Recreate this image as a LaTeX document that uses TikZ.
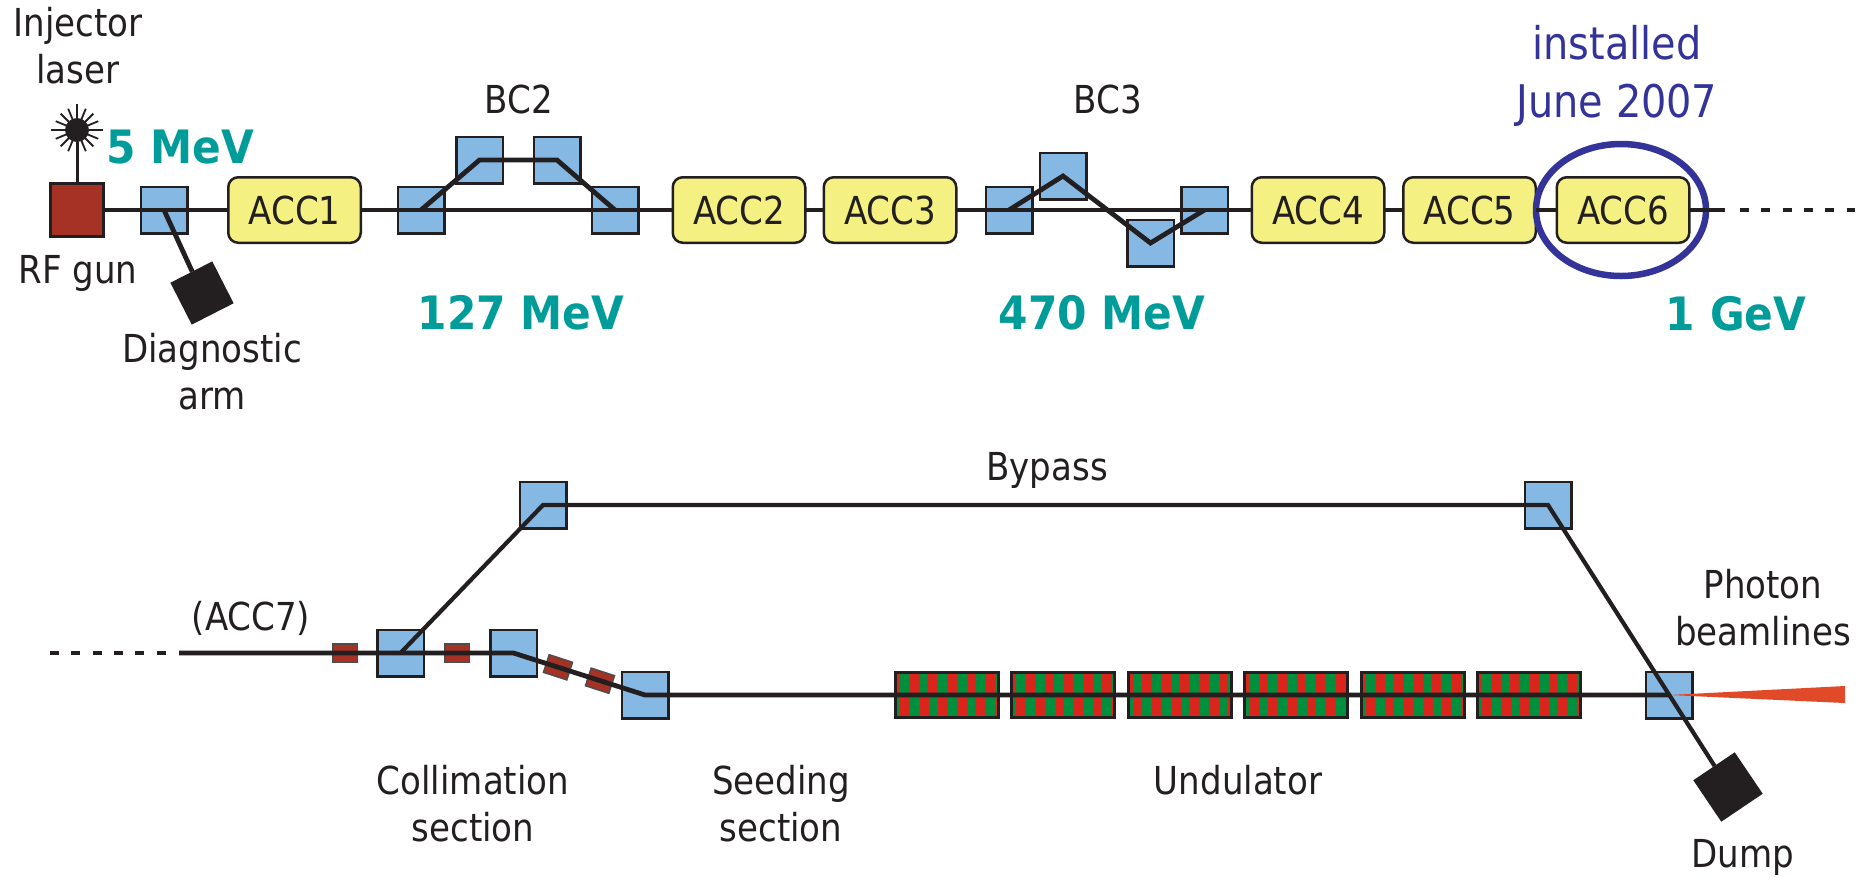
\documentclass[tikz,border=0pt]{standalone}
\usepackage{xcolor}
\usepackage{fontspec}
\setmainfont[FakeStretch=0.885]{DejaVu Sans}
\newfontfamily\energyfont[FakeStretch=0.92]{DejaVu Sans}
\usetikzlibrary{shapes,positioning}

\definecolor{inkblack}{HTML}{231F20}
\definecolor{magblue}{HTML}{85B9E3}
\definecolor{gunred}{HTML}{A63226}
\definecolor{accyellow}{HTML}{F4F082}
\definecolor{ringblue}{HTML}{33339A}
\definecolor{energyteal}{HTML}{009C9A}
\definecolor{undgreen}{HTML}{008F3C}
\definecolor{undred}{HTML}{DA251C}
\definecolor{coneorange}{HTML}{E04A28}

\begin{document}
\begin{tikzpicture}[
    x=1pt, y=-1pt,
    node distance=100pt,
    every node/.style={font=\fontsize{38.5}{47}\selectfont, text=inkblack, inner sep=0pt, outer sep=0pt},
    bendbox/.style={rectangle, draw=inkblack, line width=2.5pt, fill=magblue, minimum size=46.5pt},
    acc/.style={rectangle, rounded corners=10pt, draw=inkblack, line width=2.5pt, fill=accyellow, minimum width=132.5pt, minimum height=65.5pt},
    block/.style={rectangle, fill=inkblack, minimum size=#1},
    magnet/.style={rectangle, draw=inkblack!80, line width=1.5pt, fill=gunred, minimum width=24.5pt, minimum height=18.5pt},
    undu/.style={rectangle, draw=inkblack, line width=3pt, fill=undgreen, minimum width=103pt, minimum height=45pt,
        path picture={
            \foreach \k in {-1,...,5} {
                \fill[undred] ([shift={(\k*19.1+13.8,-30)}]path picture bounding box.west) rectangle ++(9.6,30);
                \fill[undred] ([shift={(\k*19.1+4.5,0)}]path picture bounding box.west) rectangle ++(9.6,30);
            }
        }},
    beam/.style={line width=4.8pt, draw=inkblack},
    thinbeam/.style={line width=4.2pt, draw=inkblack},
    dots/.style={line width=4.8pt, draw=inkblack, dash pattern=on 9pt off 12.3pt},
    txt/.style={anchor=base, align=center},
    energy/.style={anchor=base, text=energyteal, font=\energyfont\bfseries\fontsize{46}{50}\selectfont},
    note/.style={anchor=base, align=center, text=ringblue, font=\fontsize{45}{58}\selectfont}
]
    \useasboundingbox (0,0) rectangle (1865,879);

    % upper line
    \node[rectangle, draw=inkblack, line width=3pt, fill=gunred, minimum size=53pt] (gun) at (77,210) {};
    \node[bendbox, right of=gun, xshift=-13pt] (diag) {};
    \node[acc, right of=diag, xshift=30.5pt] (acc1) {ACC1};
    \node[bendbox, right of=acc1, xshift=26.5pt] (bcA) {};
    \node[bendbox, right of=bcA, xshift=-41.5pt, yshift=50pt] (bcB) {};
    \node[bendbox, right of=bcB, xshift=-22.5pt] (bcC) {};
    \node[bendbox, right of=bcC, xshift=-42pt, yshift=-50pt] (bcD) {};
    \node[acc, right of=bcD, xshift=24pt] (acc2) {ACC2};
    \node[acc, right of=acc2, xshift=51pt] (acc3) {ACC3};
    \node[bendbox, right of=acc3, xshift=19pt] (bdA) {};
    \node[bendbox, right of=bdA, xshift=-46pt, yshift=34pt] (bdB) {};
    \node[bendbox, right of=bdB, xshift=-12.5pt, yshift=-67pt] (bdC) {};
    \node[bendbox, right of=bdC, xshift=-46pt, yshift=33pt] (bdD) {};
    \node[acc, right of=bdD, xshift=13.5pt] (acc4) {ACC4};
    \node[acc, right of=acc4, xshift=51.5pt] (acc5) {ACC5};
    \node[acc, right of=acc5, xshift=53.5pt] (acc6) {ACC6};
    \node[ellipse, draw=ringblue, line width=6.5pt, minimum width=170pt, minimum height=132pt, right of=acc5, xshift=51.5pt] (ring) {};
    \node[block=47pt, rotate=27] (diagdump) at (202,293) {};
    \node[circle, fill=inkblack, minimum size=24pt] (laser) at (77,130) {};
    \coordinate (upend) at (1725,210);
    \coordinate (dotA) at (1740,210);
    \coordinate (dotB) at (1855,210);

    % lower line
    \coordinate (lowdotA) at (50,653);
    \coordinate (lowdotB) at (170,653);
    \coordinate (lowstart) at (179,653);
    \node[magnet] (magA) at (345,653) {};
    \node[bendbox, right of=magA, xshift=-44.5pt] (colA) {};
    \node[magnet, right of=colA, xshift=-43.5pt] (magB) {};
    \node[bendbox, right of=magB, xshift=-43.5pt] (colB) {};
    \node[magnet, rotate=-18] (magC) at (558,667.3) {};
    \node[magnet, rotate=-18] (magD) at (600,680.7) {};
    \node[bendbox] (seed) at (645,695) {};
    \node[undu] (undA) at (947,695) {};
    \node[undu, right of=undA, xshift=16.4pt] (undB) {};
    \node[undu, right of=undB, xshift=16.4pt] (undC) {};
    \node[undu, right of=undC, xshift=16.4pt] (undD) {};
    \node[undu, right of=undD, xshift=16.4pt] (undE) {};
    \node[undu, right of=undE, xshift=16.4pt] (undF) {};
    \node[bendbox] (spread) at (1669,695) {};
    \node[bendbox] (byA) at (543,505) {};
    \node[bendbox] (byB) at (1548,505) {};
    \node[block=50pt, rotate=34] (dump) at (1728,787) {};

    \fill[coneorange] (spread.center) -- (1845,686) -- (1845,703) -- cycle;

    \draw[beam] (gun) -- (acc1);
    \draw[beam] (diag.center) -- (diagdump);
    \draw[line width=3pt, draw=inkblack] (laser) -- (gun);
    \foreach \a in {0,22.5,...,337.5}
        \draw[line width=1.8pt, draw=inkblack] (laser.center) -- ++(\a:{mod(\a,90)==0 ? 26 : 23});
    \draw[beam] (acc1) -- (acc2);
    \draw[beam] (bcA.center) -- (bcB.center) -- (bcC.center) -- (bcD.center);
    \draw[beam] (acc2) -- (acc3);
    \draw[beam] (acc3) -- (acc4);
    \draw[beam] (bdA.center) -- (bdB.center) -- (bdC.center) -- (bdD.center);
    \draw[beam] (acc4) -- (acc5);
    \draw[beam] (acc5) -- (acc6);
    \draw[beam] (acc6) -- (upend);
    \draw[dots] (dotA) -- (dotB);

    \draw[dots] (lowdotA) -- (lowdotB);
    \draw[beam] (lowstart) -- (colA.center) -- (colB.center) -- (seed.center) -- (spread.center);
    \draw[thinbeam] (colA.center) -- (byA.center) -- (byB.center) -- (dump);

    % labels
    \node[txt] (injector) at (78,83) {Injector\\laser};
    \node[energy] (five) at (180,163) {5 MeV};
    \node[txt] (rfgun) at (78,283) {RF gun};
    \node[txt] (diagarm) at (212,409) {Diagnostic\\arm};
    \node[txt] (bctwo) at (519,113) {BC2};
    \node[txt] (bcthree) at (1108,113) {BC3};
    \node[energy] (mevA) at (521,329) {127 MeV};
    \node[energy] (mevB) at (1102,329) {470 MeV};
    \node[energy] (gev) at (1736,330) {1 GeV};
    \node[note] (installed) at (1617,117) {installed\\June 2007};
    \node[txt] (bypass) at (1047,480) {Bypass};
    \node[txt] (accseven) at (251,630) {(ACC7)};
    \node[txt] (collim) at (473,841) {Collimation\\section};
    \node[txt] (seeding) at (781,841) {Seeding\\section};
    \node[txt] (undulator) at (1238,794.5) {Undulator};
    \node[txt] (photon) at (1763,645) {Photon\\beamlines};
    \node[txt] (dumplabel) at (1743,867) {Dump};
\end{tikzpicture}
\end{document}
